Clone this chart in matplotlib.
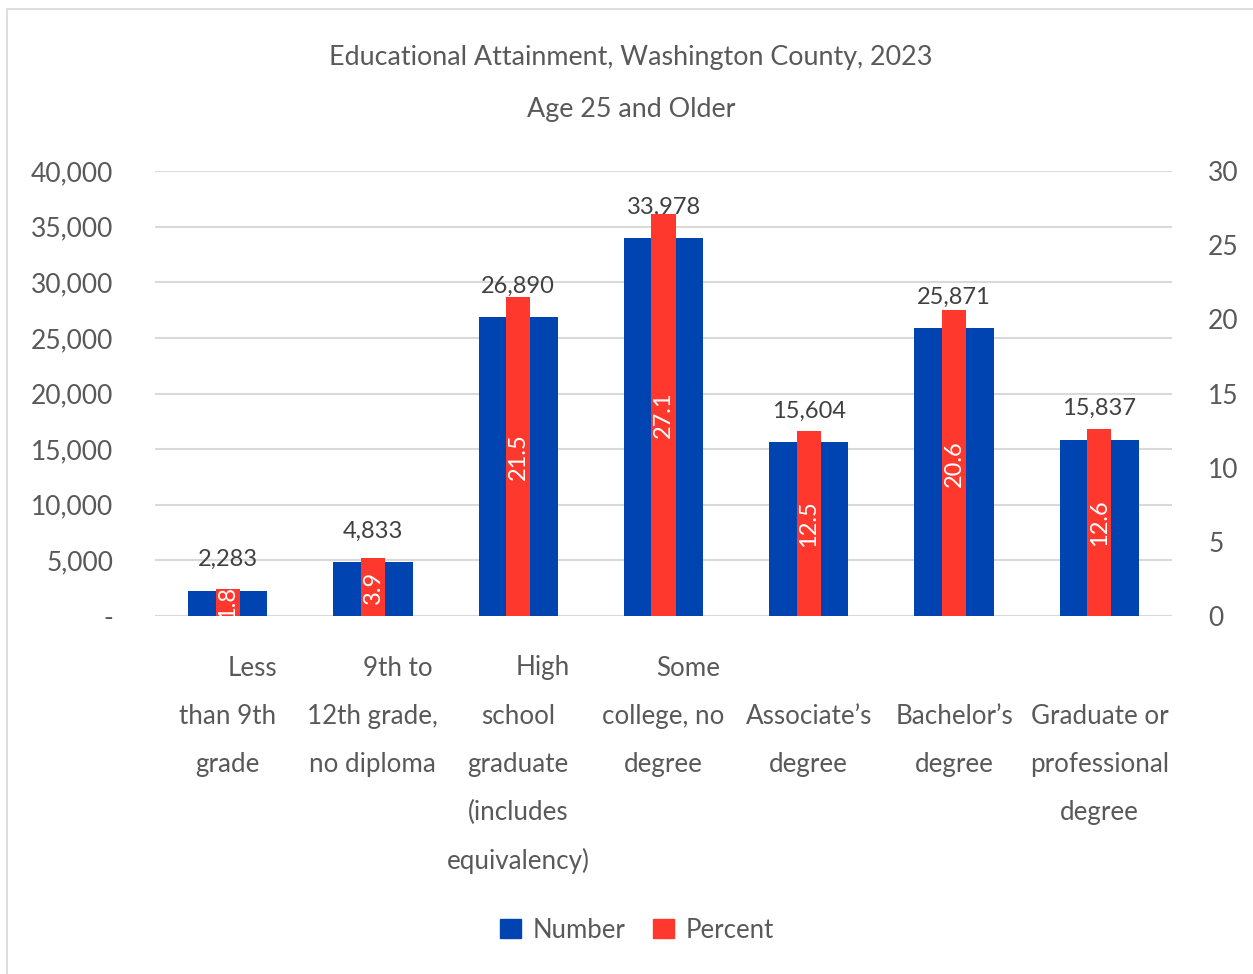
import matplotlib
matplotlib.use("Agg")
import matplotlib.pyplot as plt
import matplotlib.transforms as mtransforms
from matplotlib.patches import Rectangle, Patch
import numpy as np

plt.rcParams['font.family'] = ['Lato', 'DejaVu Sans']

categories = [
    ["Less", "than 9th", "grade"],
    ["9th to", "12th grade,", "no diploma"],
    ["High", "school", "graduate", "(includes", "equivalency)"],
    ["Some", "college, no", "degree"],
    ["", "Associate\u2019s", "degree"],
    ["", "Bachelor\u2019s", "degree"],
    ["", "Graduate or", "professional", "degree"],
]
numbers = [2283, 4833, 26890, 33978, 15604, 25871, 15837]
percents = [1.8, 3.9, 21.5, 27.1, 12.5, 20.6, 12.6]
left_ticks = [0, 5000, 10000, 15000, 20000, 25000, 30000, 35000, 40000]
right_ticks = [0, 5, 10, 15, 20, 25, 30]

BLUE = "#0044B2"
RED = "#FF382E"
TXT = "#595959"
GRID = "#D9D9D9"

W, H = 1253, 974
fig = plt.figure(figsize=(W / 100, H / 100), dpi=100)
ax = fig.add_axes([155 / W, 1 - 616 / H, (1172 - 155) / W, (616 - 171) / H])
ax2 = ax.twinx()

x = np.arange(len(numbers))
ax.bar(x, numbers, width=0.545, color=BLUE, zorder=2, label="Number")
ax2.bar(x, percents, width=0.166, color=RED, zorder=3, label="Percent")

ax.set_xlim(-0.5, len(numbers) - 0.5)
ax.set_ylim(0, 40000)
ax2.set_ylim(0, 30)
ax.set_yticks(left_ticks)
ax.set_yticklabels(["-" if v == 0 else f"{v:,}" for v in left_ticks])
ax2.set_yticks(right_ticks)
ax2.set_yticklabels([str(v) for v in right_ticks])

for a in (ax, ax2):
    for s in a.spines.values():
        s.set_visible(False)
    a.tick_params(axis='both', length=0, labelsize=19, labelcolor=TXT)
ax.tick_params(axis='y', pad=30)
ax2.tick_params(axis='y', pad=26)
ax.set_xticks([])
ax.yaxis.grid(True, color=GRID, linewidth=1.5, zorder=0)
ax.set_axisbelow(True)
ax.axhline(0, color=GRID, linewidth=1.5, zorder=1)

# number labels
for xi, n in zip(x, numbers):
    ax.annotate(f"{n:,}", (xi, n), xytext=(0, 31), textcoords='offset pixels',
                ha='center', va='center', fontsize=17, color="#404040", zorder=5)
# percent labels
for xi, p in zip(x, percents):
    ax2.text(xi, p / 2, f"{p}", rotation=90, ha='center', va='center',
             fontsize=17, color="white", zorder=5)

# category labels
trans = mtransforms.blended_transform_factory(ax.transData, fig.transFigure)
for xi, lines in zip(x, categories):
    for j, line in enumerate(lines):
        if not line:
            continue
        y = 1 - (668 + j * 48.3) / H
        t = mtransforms.offset_copy(trans, fig=fig, x=25 if j == 0 else 0, y=0, units='dots')
        fig.text(xi, y, line, transform=t, ha='center', va='center',
                 fontsize=18.7, color=TXT)

fig.text(631 / W, 1 - 57 / H, "Educational Attainment, Washington County, 2023",
         ha='center', va='center', fontsize=19.4, color=TXT)
fig.text(631 / W, 1 - 109 / H, "Age 25 and Older",
         ha='center', va='center', fontsize=19.4, color=TXT)

handles = [Patch(color=BLUE, label="Number"), Patch(color=RED, label="Percent")]
fig.legend(handles=handles, loc='center', bbox_to_anchor=(637 / W, 1 - 930 / H),
           ncol=2, frameon=False, fontsize=18.5, labelcolor=TXT,
           handlelength=0.8, handleheight=0.8, columnspacing=1.1, handletextpad=0.45)

fig.patches.append(Rectangle((7 / W, -0.01), 1.0, 1 - 9 / H + 0.01, transform=fig.transFigure,
                             fill=False, edgecolor=GRID, linewidth=1.2))

fig.savefig("out.png", dpi=100, facecolor="white")
